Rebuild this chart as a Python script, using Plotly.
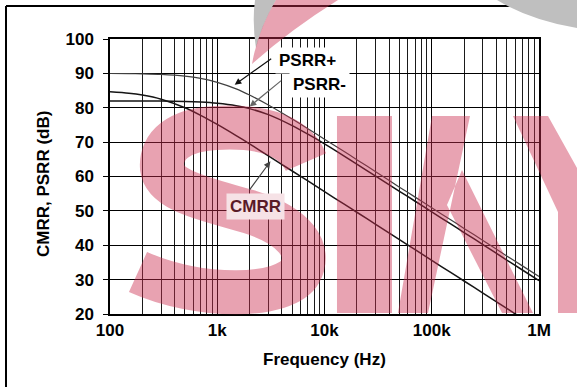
import math
import plotly.graph_objects as go

# ---------------- data ----------------
freq_hz = [100, 150, 200, 300, 500, 700, 1000, 1500, 2000, 3000, 5000, 7000,
           10000, 15000, 20000, 30000, 50000, 70000, 100000, 150000, 200000,
           300000, 500000, 700000, 1000000]
psrr_pos_db = [89.97, 89.92, 89.86, 89.69, 89.2, 88.55, 87.4, 85.5, 83.7, 80.8,
               76.7, 73.9, 70.85, 67.4, 64.9, 61.4, 56.9, 54.0, 50.9, 47.4,
               44.9, 41.4, 36.9, 34.0, 30.9]
psrr_neg_db = [82.0, 81.98, 81.97, 81.93, 81.82, 81.65, 81.3, 80.6, 79.75, 78.0,
               74.8, 72.3, 69.5, 66.1, 63.6, 60.1, 55.7, 52.8, 49.7, 46.2,
               43.7, 40.2, 35.7, 32.8, 29.7]
cmrr_db = [84.64, 84.23, 83.7, 82.5, 80.0, 77.8, 75.15, 71.9, 69.5, 66.0,
           61.6, 58.7, 55.6, 52.1, 49.6, 46.1, 41.65, 38.7, 35.6, 32.1,
           29.6, 26.1, 21.65, 18.7, 15.6]

x_tick_vals = [100, 1000, 10000, 100000, 1000000]
x_tick_text = ["100", "1k", "10k", "100k", "1M"]
x_minor_vals = [m * d for d in (100, 1000, 10000, 100000) for m in range(2, 10)]
y_tick_vals = [20, 30, 40, 50, 60, 70, 80, 90, 100]

# ---------------- geometry helpers (pixel -> paper) ----------------
W, H = 577, 387
PL, PR, PT, PB = 110, 539, 39, 314


def px(x):
    return (x - PL) / (PR - PL)


def py(y):
    return (PB - y) / (PB - PT)


def path(cmds):
    out = []
    for c in cmds:
        if c[0] == "Z":
            out.append("Z")
            continue
        pts = " ".join(f"{px(a):.4f},{py(b):.4f}" for a, b in c[1:])
        out.append(f"{c[0]} {pts}")
    return " ".join(out)


FONT = "Arial, 'Liberation Sans', Helvetica, sans-serif"
WM = "rgb(203,45,79)"
WM_OP = 0.44

fig = go.Figure()
fig.add_trace(go.Scatter(x=freq_hz, y=cmrr_db, mode="lines", name="CMRR",
                         line=dict(color="#151515", width=1.5, shape="spline", smoothing=0.8)))
fig.add_trace(go.Scatter(x=freq_hz, y=psrr_neg_db, mode="lines", name="PSRR-",
                         line=dict(color="#151515", width=1.5, shape="spline", smoothing=0.8)))
fig.add_trace(go.Scatter(x=freq_hz, y=psrr_pos_db, mode="lines", name="PSRR+",
                         line=dict(color="#404040", width=1.2, shape="spline", smoothing=0.8)))

shapes = []
# outer frame (top + left visible)
shapes.append(dict(type="line", xref="paper", yref="paper", x0=px(6), x1=px(6), y0=py(6), y1=py(H),
                   line=dict(color="black", width=2), layer="above"))
shapes.append(dict(type="line", xref="paper", yref="paper", x0=px(6), x1=px(W), y0=py(6), y1=py(6),
                   line=dict(color="black", width=2), layer="above"))
# grey swooshes at top
shapes.append(dict(type="path", xref="paper", yref="paper", layer="above",
                   path=path([("M", (497, 0)), ("L", (577, 0)), ("L", (577, 28)),
                              ("Q", (530, 20), (497, 0)), ("Z",)]),
                   fillcolor="#bfbfbf", line=dict(width=0)))
shapes.append(dict(type="path", xref="paper", yref="paper", layer="above",
                   path=path([("M", (255, 0)), ("L", (276, 0)), ("Q", (262, 24), (256, 48)),
                              ("Q", (252, 22), (255, 0)), ("Z",)]),
                   fillcolor="#bfbfbf", line=dict(width=0)))
# pink wedge at top
shapes.append(dict(type="path", xref="paper", yref="paper", layer="above", opacity=WM_OP,
                   path=path([("M", (276, 0)), ("L", (338, 0)), ("Q", (290, 30), (252, 64)),
                              ("Q", (258, 30), (276, 0)), ("Z",)]),
                   fillcolor=WM, line=dict(width=0)))
# "S"
shapes.append(dict(type="path", xref="paper", yref="paper", layer="above", opacity=WM_OP,
                   path=path([("M", (306, 162)), ("C", (292, 130), (250, 126), (215, 128)),
                              ("C", (180, 130), (160, 145), (162, 168)),
                              ("C", (165, 192), (210, 200), (250, 212)),
                              ("C", (295, 226), (312, 250), (300, 272)),
                              ("C", (285, 298), (200, 300), (138, 272))]),
                   fillcolor="rgba(0,0,0,0)", line=dict(color=WM, width=44)))
# "K" and "Y"
shapes.append(dict(type="path", xref="paper", yref="paper", layer="above", opacity=WM_OP,
                   path=path([("M", (337, 116)), ("L", (392, 116)), ("L", (392, 313)), ("L", (337, 313)), ("Z",),
                              ("M", (398, 313)), ("L", (428, 313)), ("L", (470, 116)), ("L", (432, 116)), ("Z",),
                              ("M", (447, 205)), ("L", (462, 170)), ("L", (533, 313)), ("L", (502, 313)), ("Z",),
                              ("M", (513, 116)), ("L", (548, 116)), ("L", (577, 168)), ("L", (577, 313)),
                              ("L", (558, 313)), ("L", (558, 212)), ("Z",)]),
                   fillcolor=WM, line=dict(width=0)))

ann = []
arrow_common = dict(xref="x", yref="y", axref="pixel", ayref="pixel", text="", showarrow=True,
                    arrowhead=2, arrowsize=1.1, arrowwidth=1.2, standoff=0)
ann.append(dict(x=math.log10(1454), y=86.7, ax=38, ay=-27, arrowcolor="#111", **arrow_common))
ann.append(dict(x=math.log10(2007), y=80.4, ax=33, ay=-27, arrowcolor="#666", **arrow_common))
ann.append(dict(x=math.log10(3132), y=64.4, ax=-22, ay=30, arrowcolor="#444", **arrow_common))

lab_font = dict(family=FONT, size=17, color="black", weight=700)
centered = dict(xref="paper", yref="paper", showarrow=False, xanchor="center", yanchor="middle")
ann.append(dict(x=px(307), y=py(61), text="PSRR+", bgcolor="white", borderpad=3, font=lab_font, **centered))
ann.append(dict(x=px(319), y=py(84), text="PSRR-", bgcolor="white", borderpad=3, font=lab_font, **centered))
ann.append(dict(x=px(255.5), y=py(207), text="CMRR", bgcolor="rgb(246,226,230)", borderpad=3,
                font=dict(family=FONT, size=17, color="#5a1a28", weight=700), **centered))
# axis titles
ann.append(dict(x=px(324), y=py(359), text="Frequency (Hz)",
                font=dict(family=FONT, size=17, color="black", weight=700), **centered))
ann.append(dict(x=px(43), y=py(184), text="CMRR, PSRR (dB)", textangle=-90,
                font=dict(family=FONT, size=17, color="black", weight=700), **centered))

fig.update_layout(
    width=W, height=H,
    margin=dict(l=PL, r=W - PR, t=PT, b=H - PB, autoexpand=False),
    paper_bgcolor="white", plot_bgcolor="white",
    showlegend=False,
    shapes=shapes, annotations=ann,
    font=dict(family=FONT, color="black"),
)
fig.update_xaxes(
    type="log", range=[2, 6],
    tickvals=x_tick_vals, ticktext=x_tick_text,
    tickfont=dict(family=FONT, size=17, color="black", weight=700),
    ticks="", ticklabelstandoff=0,
    showgrid=True, gridcolor="black", gridwidth=1,
    minor=dict(tickvals=x_minor_vals, showgrid=True, gridcolor="#1a1a1a", gridwidth=1, ticks=""),
    showline=True, linecolor="black", linewidth=1.5, mirror=True,
    zeroline=False,
)
fig.update_yaxes(
    range=[20, 100], tickvals=y_tick_vals,
    tickfont=dict(family=FONT, size=17, color="black", weight=700),
    ticks="outside", ticklen=5, tickcolor="black", tickwidth=1, ticklabelstandoff=6,
    showgrid=True, gridcolor="black", gridwidth=1.2,
    showline=True, linecolor="black", linewidth=1.5, mirror=True,
    zeroline=False,
)

fig.write_html("out.html", config={"displayModeBar": False},
               post_script="document.body.style.margin='0';document.body.style.padding='0';")
